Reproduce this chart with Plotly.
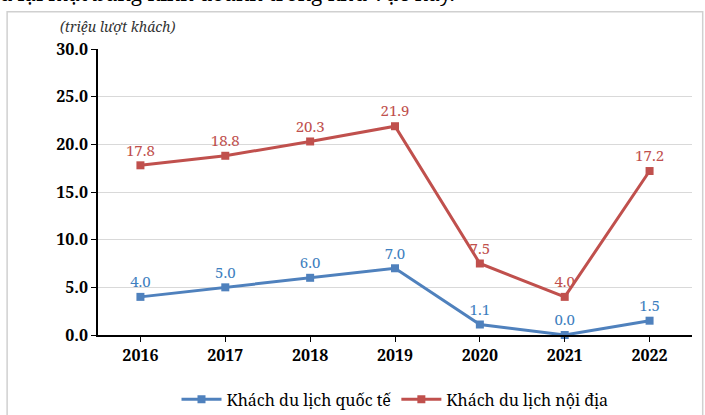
import plotly.graph_objects as go

years = ["2016", "2017", "2018", "2019", "2020", "2021", "2022"]
intl = [4.0, 5.0, 6.0, 7.0, 1.1, 0.0, 1.5]
domestic = [17.8, 18.8, 20.3, 21.9, 7.5, 4.0, 17.2]
yticks = [0, 5, 10, 15, 20, 25, 30]
ytick_text = ["0.0", "5.0", "10.0", "15.0", "20.0", "25.0", "30.0"]

BLUE = "#4F81BD"
RED = "#C0504D"
SERIF = "Noto Serif"

fig = go.Figure()
fig.add_trace(go.Scatter(
    x=years, y=intl, name="Khách du lịch quốc tế",
    mode="lines+markers+text",
    line=dict(color=BLUE, width=3),
    marker=dict(symbol="square", size=8, color=BLUE),
    text=[f"{v:.1f}" for v in intl], textposition="top center",
    textfont=dict(family=SERIF, size=15, color="#3F7FC0"),
    cliponaxis=False,
))
fig.add_trace(go.Scatter(
    x=years, y=domestic, name="Khách du lịch nội địa",
    mode="lines+markers+text",
    line=dict(color=RED, width=3),
    marker=dict(symbol="square", size=8, color=RED),
    text=[f"{v:.1f}" for v in domestic], textposition="top center",
    textfont=dict(family=SERIF, size=15, color=RED),
    cliponaxis=False,
))

fig.update_layout(
    width=705, height=415,
    margin=dict(l=98, r=13, t=49, b=80, autoexpand=False),
    paper_bgcolor="white", plot_bgcolor="white",
    font=dict(family=SERIF, color="black"),
    showlegend=True,
    legend=dict(orientation="h", x=0.5, xanchor="center", y=-0.225, yanchor="middle",
                font=dict(family=SERIF, size=16, color="black"),
                bgcolor="rgba(0,0,0,0)",
                itemwidth=40, tracegroupgap=0),
    xaxis=dict(
        type="category", range=[-0.5, 6.5],
        showline=True, linecolor="black", linewidth=1.5,
        ticks="outside", ticklen=5, tickcolor="black",
        tickfont=dict(family=SERIF, size=16, color="black", weight="bold"),
        showgrid=False, zeroline=False,
    ),
    yaxis=dict(
        range=[0, 30], tickvals=yticks, ticktext=ytick_text,
        showline=True, linecolor="black", linewidth=1.5,
        ticks="outside", ticklen=5, tickcolor="black",
        tickfont=dict(family=SERIF, size=16, color="black", weight="bold"),
        showgrid=True, gridcolor="#D9D9D9", gridwidth=1, zeroline=False,
    ),
)

# axis arrows
fig.add_annotation(xref="paper", yref="paper", x=0, y=1.0, ax=0, ay=1,
                   showarrow=True, arrowhead=2, arrowsize=1.2,
                   arrowwidth=1.5, arrowcolor="black", text="", standoff=0)
fig.add_annotation(xref="paper", yref="paper", x=1.0, y=0, ax=-1, ay=0,
                   showarrow=True, arrowhead=2, arrowsize=1.2,
                   arrowwidth=1.5, arrowcolor="black", text="", standoff=0)

# unit label
fig.add_annotation(xref="paper", yref="paper", x=-0.068, y=1.078, xanchor="left", yanchor="middle",
                   text="(triệu lượt khách)", showarrow=False,
                   font=dict(family=SERIF, size=14, color="#333333", style="italic"))

# cut-off page text at top
fig.add_annotation(xref="paper", yref="paper", x=-0.17, y=1.14, xanchor="left", yanchor="bottom",
                   text="u lại mặt bằng kinh doanh trong khu vực này.", showarrow=False,
                   font=dict(family=SERIF, size=21, color="black"))

# frame
fig.add_shape(type="rect", xref="paper", yref="paper", x0=-0.153, x1=1.018, y0=-0.32, y1=1.13,
              line=dict(color="#D0D0D0", width=1.5), layer="below")

fig.write_html("out.html", config={"displayModeBar": False},
               post_script="document.body.style.margin='0';")
